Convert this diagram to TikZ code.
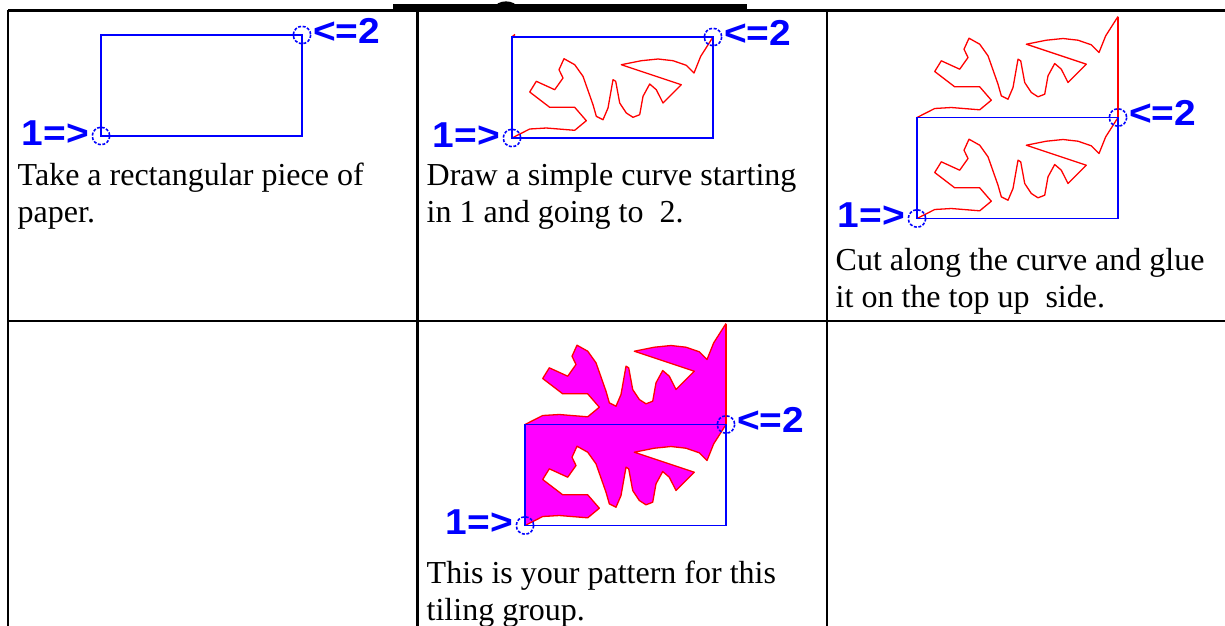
\documentclass[tikz,border=0pt]{standalone}
\usepackage{fontspec}
\setmainfont{Liberation Serif}
\newfontfamily\lblfont{Liberation Sans}
\definecolor{pblue}{RGB}{0,0,255}
\definecolor{pred}{RGB}{255,0,0}
\definecolor{pmag}{RGB}{255,0,255}
% the cut curve, relative to point 1; argument = vertical lift
\newcommand\zig[1]{(0,0-#1) -- (17.7,-9-#1) -- (34.3,-10-#1) -- (62.7,-7.7-#1) -- (74.3,-17.3-#1) -- (62.7,-30.7-#1) -- (37.7,-30.7-#1) -- (17.7,-46-#1) -- (24.3,-56.7-#1) -- (42.7,-48.3-#1) -- (51,-60-#1) -- (47,-68.3-#1) -- (52,-79.3-#1) -- (62.7,-73.3-#1) -- (71,-61.7-#1) -- (81,-33.3-#1) -- (84.3,-21.7-#1) -- (91,-18.3-#1) -- (96,-30-#1) -- (101,-58.3-#1) -- (103.7,-56.7-#1) -- (107.7,-35-#1) -- (114.3,-25-#1) -- (121,-20.7-#1) -- (127.7,-23.3-#1) -- (131,-41.7-#1) -- (137.7,-54-#1) -- (144.3,-48.3-#1) -- (151,-35-#1) -- (169.3,-53.3-#1) -- (109.3,-73.3-#1) -- (129.3,-77.3-#1) -- (146,-79-#1) -- (161,-77.3-#1) -- (174.3,-72.7-#1) -- (182,-65-#1) -- (188.7,-81.7-#1) -- (201,-101-#1)}
% the same curve traversed backwards
\newcommand\zigrev[1]{(201,-101-#1) -- (188.7,-81.7-#1) -- (182,-65-#1) -- (174.3,-72.7-#1) -- (161,-77.3-#1) -- (146,-79-#1) -- (129.3,-77.3-#1) -- (109.3,-73.3-#1) -- (169.3,-53.3-#1) -- (151,-35-#1) -- (144.3,-48.3-#1) -- (137.7,-54-#1) -- (131,-41.7-#1) -- (127.7,-23.3-#1) -- (121,-20.7-#1) -- (114.3,-25-#1) -- (107.7,-35-#1) -- (103.7,-56.7-#1) -- (101,-58.3-#1) -- (96,-30-#1) -- (91,-18.3-#1) -- (84.3,-21.7-#1) -- (81,-33.3-#1) -- (71,-61.7-#1) -- (62.7,-73.3-#1) -- (52,-79.3-#1) -- (47,-68.3-#1) -- (51,-60-#1) -- (42.7,-48.3-#1) -- (24.3,-56.7-#1) -- (17.7,-46-#1) -- (37.7,-30.7-#1) -- (62.7,-30.7-#1) -- (74.3,-17.3-#1) -- (62.7,-7.7-#1) -- (34.3,-10-#1) -- (17.7,-9-#1) -- (0,0-#1)}
\tikzset{
  tablerule/.style={line width=2.4pt, black},
  bluebox/.style={draw=pblue, line width=1.5pt},
  redcurve/.style={draw=pred, line width=1.3pt, line join=round},
  ptmark/.style={draw=pblue, line width=1.6pt, dash pattern=on 3pt off 1.6pt},
  lbl/.style={font=\lblfont\bfseries\fontsize{36}{40}\selectfont, text=pblue, inner sep=0pt, xscale=1.08},
  body/.style={font=\fontsize{32}{37}\selectfont, text=black, inner sep=0pt, anchor=base west},
}
\begin{document}
\begin{tikzpicture}[x=1pt, y=-1pt]
\useasboundingbox (0,0) rectangle (1225,625);
\fill[white] (0,0) rectangle (1225,625);

% --- table frame ---
\fill[black] (393,4) rectangle (747,9.5);
\draw[line width=2.5pt] (495,9) .. controls (497,0.5) and (515,0.5) .. (517,9);
\draw[tablerule, line width=2.6pt] (8,10.5) -- (1226,10.5);
\draw[tablerule] (8,321) -- (1226,321);
\draw[tablerule] (8,9.5) -- (8,626);
\draw[tablerule] (417.5,9.5) -- (417.5,626);
\draw[tablerule] (827,9.5) -- (827,626);

% --- cell 1: rectangle ---
\coordinate (p1a) at (101,136);
\coordinate (p2a) at (302,35);
\draw[bluebox] (p1a) rectangle (p2a);
\draw[ptmark] (p1a) circle[radius=8.7];
\draw[ptmark] (p2a) circle[radius=8.7];
\node[lbl, anchor=base east] (l1a) at ([shift={(-12,9)}]p1a) {1=>};
\node[lbl, anchor=base west] (l2a) at ([shift={(11,8)}]p2a) {<=2};
\node[body] (t1a) at (17.5,185) {Take a rectangular piece of};
\node[body] (t1b) at (17.5,222) {paper.};

% --- cell 2: curve drawn ---
\coordinate (p1b) at (512,138);
\coordinate (p2b) at (713,37);
\begin{scope}[shift={(512,138)}]
  \draw[redcurve] \zig{0};
\end{scope}
\draw[pred, line width=1.5pt] (512,37) -- (515,34.5);
\draw[bluebox] (p1b) rectangle (p2b);
\draw[ptmark] (p1b) circle[radius=8.7];
\draw[ptmark] (p2b) circle[radius=8.7];
\node[lbl, anchor=base east] (l1b) at ([shift={(-12,9)}]p1b) {1=>};
\node[lbl, anchor=base west] (l2b) at ([shift={(11,8)}]p2b) {<=2};
\node[body] (t2a) at (426.5,185) {Draw a simple curve starting};
\node[body] (t2b) at (426.5,222) {in 1 and going to\ \ 2.};

% --- cell 3: cut and glued on top ---
\coordinate (p1c) at (917,218.5);
\coordinate (p2c) at (1118,117.5);
\begin{scope}[shift={(917,218.5)}]
  \draw[redcurve] \zig{0};
  \draw[redcurve] \zig{101};
  \draw[redcurve] (201,-101) -- (201,-202);
\end{scope}
\draw[bluebox] (p1c) rectangle (p2c);
\draw[ptmark] (p1c) circle[radius=8.7];
\draw[ptmark] (p2c) circle[radius=8.7];
\node[lbl, anchor=base east] (l1c) at ([shift={(-12,9)}]p1c) {1=>};
\node[lbl, anchor=base west] (l2c) at ([shift={(11,8)}]p2c) {<=2};
\node[body] (t3a) at (835.5,270) {Cut along the curve and glue};
\node[body] (t3b) at (835.5,307) {it on the top up\ \ side.};

% --- cell 5: the pattern ---
\coordinate (p1e) at (525,525.5);
\coordinate (p2e) at (726,424.5);
\begin{scope}[shift={(525,525.5)}]
  \fill[pmag] \zig{0} -- \zigrev{101} -- cycle;
  \draw[redcurve] \zig{0};
  \draw[redcurve] \zig{101};
  \draw[redcurve] (201,-101) -- (201,-202);
\end{scope}
\draw[bluebox] (p1e) rectangle (p2e);
\draw[ptmark] (p1e) circle[radius=8.7];
\draw[ptmark] (p2e) circle[radius=8.7];
\node[lbl, anchor=base east] (l1e) at ([shift={(-12,9)}]p1e) {1=>};
\node[lbl, anchor=base west] (l2e) at ([shift={(11,8)}]p2e) {<=2};
\node[body] (t5a) at (426.5,583) {This is your pattern for this};
\node[body] (t5b) at (426.5,620) {tiling group.};
\end{tikzpicture}
\end{document}
